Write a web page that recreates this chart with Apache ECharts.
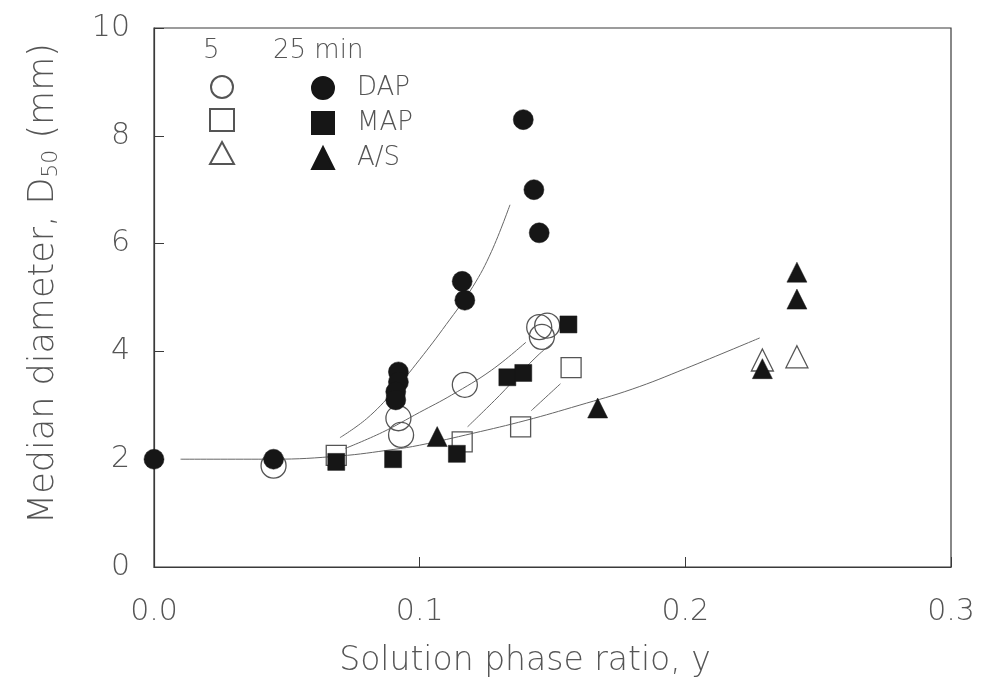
<!DOCTYPE html>
<html>
<head>
<meta charset="utf-8">
<script src="https://cdn.jsdelivr.net/npm/echarts@6/dist/echarts.min.js"></script>
<style>
  html, body { margin: 0; padding: 0; background: #fff; }
  #chart { width: 985px; height: 692px; }
</style>
</head>
<body>
<div id="chart"></div>
<script>
// axis ticks
const xTicks = [0, 0.1, 0.2, 0.3]
const yTicks = [0, 2, 4, 6, 8, 10]

// measured points [y ratio, D50 mm]
const dap5 = [[0.045, 1.88], [0.092, 2.76], [0.093, 2.45], [0.117, 3.38], [0.145, 4.45], [0.148, 4.48], [0.146, 4.27]]
const dap25 = [[0, 2.0], [0.045, 2.0], [0.092, 3.62], [0.092, 3.43], [0.091, 3.25], [0.091, 3.1], [0.116, 5.3], [0.117, 4.95], [0.139, 8.3], [0.143, 7.0], [0.145, 6.2]]
const map5 = [[0.0686, 2.07], [0.116, 2.32], [0.138, 2.6], [0.157, 3.7]]
const map25 = [[0.0686, 1.95], [0.09, 2.0], [0.114, 2.1], [0.133, 3.52], [0.139, 3.6], [0.156, 4.5]]
const as5 = [[0.229, 3.84], [0.242, 3.9]]
const as25 = [[0.1066, 2.42], [0.167, 2.95], [0.229, 3.68], [0.242, 5.47], [0.242, 4.97]]

// hand drawn trend curves
const curveBase = [[0.01, 2.0], [0.045, 2.0], [0.07, 2.06], [0.09, 2.18], [0.1, 2.26], [0.12, 2.48], [0.14, 2.72], [0.16, 3.0], [0.18, 3.3], [0.2, 3.68], [0.228, 4.25]]
const curveDap25 = [[0.07, 2.4], [0.08, 2.75], [0.09, 3.25], [0.1, 3.85], [0.11, 4.5], [0.12, 5.2], [0.127, 5.85], [0.134, 6.72]]
const curveDap5 = [[0.072, 2.2], [0.086, 2.5], [0.1, 2.87], [0.112, 3.19], [0.127, 3.65], [0.14, 4.17]]
const curveMap25 = [[0.118, 2.6], [0.13, 3.18], [0.138, 3.6], [0.145, 3.95], [0.15, 4.15]]
const curveMap5 = [[0.142, 2.9], [0.153, 3.4]]

const textColor = '#555'
const font = 'DejaVu Sans'
const weight = 200

const chart = echarts.init(document.getElementById('chart'))

function openSeries(name, data, symbol, size) {
  return {
    name: name, type: 'scatter', data: data, symbol: symbol, symbolSize: size, z: 3,
    itemStyle: { color: 'rgba(255,255,255,0)', borderColor: '#555', borderWidth: 1.3, opacity: 1 }
  }
}
function filledSeries(name, data, symbol, size) {
  return {
    name: name, type: 'scatter', data: data, symbol: symbol, symbolSize: size, z: 4,
    itemStyle: { color: '#161616', borderColor: '#161616', borderWidth: 0.5, opacity: 1 }
  }
}
function curve(data) {
  return {
    type: 'line', data: data, smooth: 0.4, showSymbol: false, silent: true, z: 2,
    lineStyle: { color: '#666', width: 1 }
  }
}

const option = {
  animation: false,
  grid: {
    left: 154, right: 34, top: 28, bottom: 125,
    show: true, borderColor: '#3a3a3a', borderWidth: 1.2
  },
  xAxis: {
    type: 'value', min: 0, max: 0.3, interval: 0.1,
    name: 'Solution phase ratio, y',
    nameLocation: 'middle', nameGap: 78,
    nameTextStyle: { fontSize: 33, color: textColor, fontFamily: font, fontWeight: weight, padding: [0, 55, 0, 0] },
    axisLine: { lineStyle: { color: '#3a3a3a', width: 1.2 } },
    axisTick: { inside: true, length: 10, lineStyle: { color: '#3a3a3a' } },
    splitLine: { show: false },
    axisLabel: {
      margin: 30, fontSize: 30, color: textColor, fontFamily: font, fontWeight: weight,
      formatter: v => v.toFixed(1)
    }
  },
  yAxis: {
    type: 'value', min: 0, max: 10, interval: 2,
    name: '{a|Median diameter, D}{s|50}{a| (mm)}',
    nameLocation: 'middle', nameGap: 92,
    nameTextStyle: {
      color: textColor, fontFamily: font, padding: [0, 0, 0, 28],
      rich: {
        a: { fontSize: 35, color: textColor, fontFamily: font, fontWeight: weight },
        s: { fontSize: 22, color: textColor, fontFamily: font, fontWeight: weight, verticalAlign: 'bottom', padding: [14, 0, 0, 0] }
      }
    },
    axisLine: { lineStyle: { color: '#3a3a3a', width: 1.2 } },
    axisTick: { inside: true, length: 10, lineStyle: { color: '#3a3a3a' } },
    splitLine: { show: false },
    axisLabel: { margin: 24, fontSize: 30, color: textColor, fontFamily: font, fontWeight: weight }
  },
  legend: [
    {
      data: ['DAP 5 min', 'MAP 5 min', 'A/S 5 min'],
      orient: 'vertical', left: 204, top: 70,
      itemWidth: 24, itemHeight: 22, itemGap: 9,
      formatter: () => '', selectedMode: false,
      textStyle: { fontSize: 26, fontFamily: font }
    },
    {
      data: ['DAP 25 min', 'MAP 25 min', 'A/S 25 min'],
      orient: 'vertical', left: 306, top: 70,
      itemWidth: 22, itemHeight: 22, itemGap: 9,
      formatter: n => n.split(' ')[0], selectedMode: false,
      textStyle: { fontSize: 26, color: textColor, fontFamily: font, fontWeight: weight, padding: [0, 0, 0, 18] }
    }
  ],
  graphic: [
    { type: 'text', left: 203, top: 38, style: { text: '5', fontSize: 26, fill: textColor, fontFamily: font, fontWeight: weight } },
    { type: 'text', left: 273, top: 38, style: { text: '25 min', fontSize: 26, fill: textColor, fontFamily: font, fontWeight: weight } }
  ],
  series: [
    curve(curveBase),
    curve(curveDap25),
    curve(curveDap5),
    curve(curveMap25),
    curve(curveMap5),
    openSeries('DAP 5 min', dap5, 'circle', 25),
    openSeries('MAP 5 min', map5, 'rect', 20),
    openSeries('A/S 5 min', as5, 'triangle', 22),
    filledSeries('DAP 25 min', dap25, 'circle', 20),
    filledSeries('MAP 25 min', map25, 'rect', 17),
    filledSeries('A/S 25 min', as25, 'triangle', 20)
  ]
}

option && chart.setOption(option)
</script>
</body>
</html>
